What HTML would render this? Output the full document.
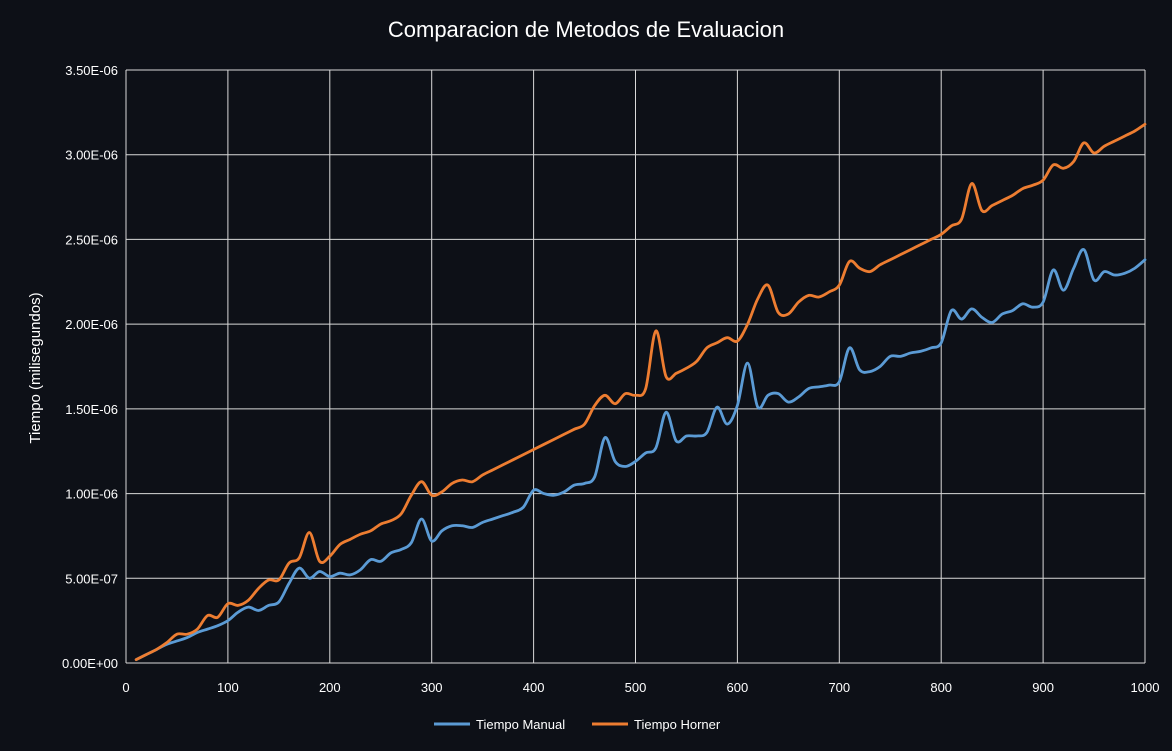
<!DOCTYPE html>
<html><head><meta charset="utf-8"><style>
html,body{margin:0;padding:0;background:#0d1017;}
svg{display:block;font-family:"Liberation Sans",Arial,sans-serif;}
</style></head><body>
<svg id="chart" width="1172" height="751" viewBox="0 0 1172 751">
<rect x="0" y="0" width="1172" height="751" fill="#0d1017"/>
<text x="586" y="37" fill="#ffffff" font-size="22" text-anchor="middle">Comparacion de Metodos de Evaluacion</text>
<g id="grid"></g>
<g id="axes"></g>
<g id="series"></g>
<text transform="translate(40,368) rotate(-90)" fill="#ffffff" font-size="15" text-anchor="middle">Tiempo (milisegundos)</text>
<g>
<g>
<line x1="434" y1="724" x2="470" y2="724" stroke="#5b9bd5" stroke-width="3"/>
<text x="476" y="729" fill="#ffffff" font-size="13">Tiempo Manual</text>
</g>
<g>
<line x1="592" y1="724" x2="628" y2="724" stroke="#ed7d31" stroke-width="3"/>
<text x="634" y="729" fill="#ffffff" font-size="13">Tiempo Horner</text>
</g>
</g>
</svg>
<script>
const xTicks=[0,100,200,300,400,500,600,700,800,900,1000];
const yTicks=[0,0.5,1.0,1.5,2.0,2.5,3.0,3.5];
const yTickLabels=["0.00E+00","5.00E-07","1.00E-06","1.50E-06","2.00E-06","2.50E-06","3.00E-06","3.50E-06"];
const xValues=[10,20,30,40,50,60,70,80,90,100,110,120,130,140,150,160,170,180,190,200,210,220,230,240,250,260,270,280,290,300,310,320,330,340,350,360,370,380,390,400,410,420,430,440,450,460,470,480,490,500,510,520,530,540,550,560,570,580,590,600,610,620,630,640,650,660,670,680,690,700,710,720,730,740,750,760,770,780,790,800,810,820,830,840,850,860,870,880,890,900,910,920,930,940,950,960,970,980,990,1000];
// values in units of 1e-6 ms
const manualValues=[0.02,0.05,0.08,0.11,0.13,0.15,0.18,0.20,0.22,0.25,0.30,0.33,0.31,0.34,0.36,0.47,0.56,0.50,0.54,0.51,0.53,0.52,0.55,0.61,0.60,0.65,0.67,0.71,0.85,0.72,0.78,0.81,0.81,0.80,0.83,0.85,0.87,0.89,0.92,1.02,1.00,0.99,1.01,1.05,1.06,1.10,1.33,1.19,1.16,1.19,1.24,1.27,1.48,1.31,1.34,1.34,1.36,1.51,1.41,1.52,1.77,1.51,1.58,1.59,1.54,1.57,1.62,1.63,1.64,1.66,1.86,1.73,1.72,1.75,1.81,1.81,1.83,1.84,1.86,1.89,2.08,2.03,2.09,2.04,2.01,2.06,2.08,2.12,2.10,2.13,2.32,2.20,2.33,2.44,2.26,2.31,2.29,2.30,2.33,2.38];
const hornerValues=[0.02,0.05,0.08,0.12,0.17,0.17,0.20,0.28,0.27,0.35,0.34,0.37,0.44,0.49,0.49,0.59,0.62,0.77,0.60,0.63,0.70,0.73,0.76,0.78,0.82,0.84,0.88,0.99,1.07,0.99,1.01,1.06,1.08,1.07,1.11,1.14,1.17,1.20,1.23,1.26,1.29,1.32,1.35,1.38,1.41,1.52,1.58,1.53,1.59,1.58,1.62,1.96,1.69,1.71,1.74,1.78,1.86,1.89,1.92,1.90,2.00,2.15,2.23,2.07,2.06,2.13,2.17,2.16,2.19,2.23,2.37,2.33,2.31,2.35,2.38,2.41,2.44,2.47,2.50,2.53,2.58,2.62,2.83,2.67,2.70,2.73,2.76,2.80,2.82,2.85,2.94,2.92,2.96,3.07,3.01,3.05,3.08,3.11,3.14,3.18];

const NS="http://www.w3.org/2000/svg";
const X0=126,X1=1145,Y0=663,Y1=70;
function xScale(v){return X0+(v-0)/(1000-0)*(X1-X0);}
function yScale(v){return Y0-(v-0)/(3.5-0)*(Y0-Y1);}
function mk(tag,attrs,parent){const e=document.createElementNS(NS,tag);for(const k in attrs)e.setAttribute(k,attrs[k]);parent.appendChild(e);return e;}
const grid=document.getElementById('grid'),axes=document.getElementById('axes'),series=document.getElementById('series');
yTicks.forEach((t,i)=>{
  const y=yScale(t);
  const l=mk('line',{x1:X0,x2:X1,y1:y,y2:y,stroke:'#d9d9d9','stroke-width':1},grid);
  
  
  const tx=mk('text',{x:X0-8,y:y+5,fill:'#ffffff','font-size':13,'text-anchor':'end'},axes);
  tx.textContent=yTickLabels[i];
  
  
});
xTicks.forEach(t=>{
  const x=xScale(t);
  const l=mk('line',{x1:x,x2:x,y1:Y1,y2:Y0,stroke:'#d9d9d9','stroke-width':1},grid);
  
  
  const tx=mk('text',{x:x,y:Y0+29,fill:'#ffffff','font-size':13,'text-anchor':'middle'},axes);
  tx.textContent=String(t);
  
  
});
function smoothPath(xs,ys){
  const p=xs.map((x,i)=>[xScale(x),yScale(ys[i])]);
  let d='M'+p[0][0]+','+p[0][1];
  for(let i=0;i<p.length-1;i++){
    const p0=p[i-1]||p[i],p1=p[i],p2=p[i+1],p3=p[i+2]||p[i+1];
    const t=1/6;
    const c1=[p1[0]+(p2[0]-p0[0])*t,p1[1]+(p2[1]-p0[1])*t];
    const c2=[p2[0]-(p3[0]-p1[0])*t,p2[1]-(p3[1]-p1[1])*t];
    d+=' C'+c1[0]+','+c1[1]+' '+c2[0]+','+c2[1]+' '+p2[0]+','+p2[1];
  }
  return d;
}
const pm=mk('path',{d:smoothPath(xValues,manualValues),fill:'none',stroke:'#5b9bd5','stroke-width':2.8,'stroke-linejoin':'round','stroke-linecap':'round'},series);


const ph=mk('path',{d:smoothPath(xValues,hornerValues),fill:'none',stroke:'#ed7d31','stroke-width':2.8,'stroke-linejoin':'round','stroke-linecap':'round'},series);


</script>
</body></html>
